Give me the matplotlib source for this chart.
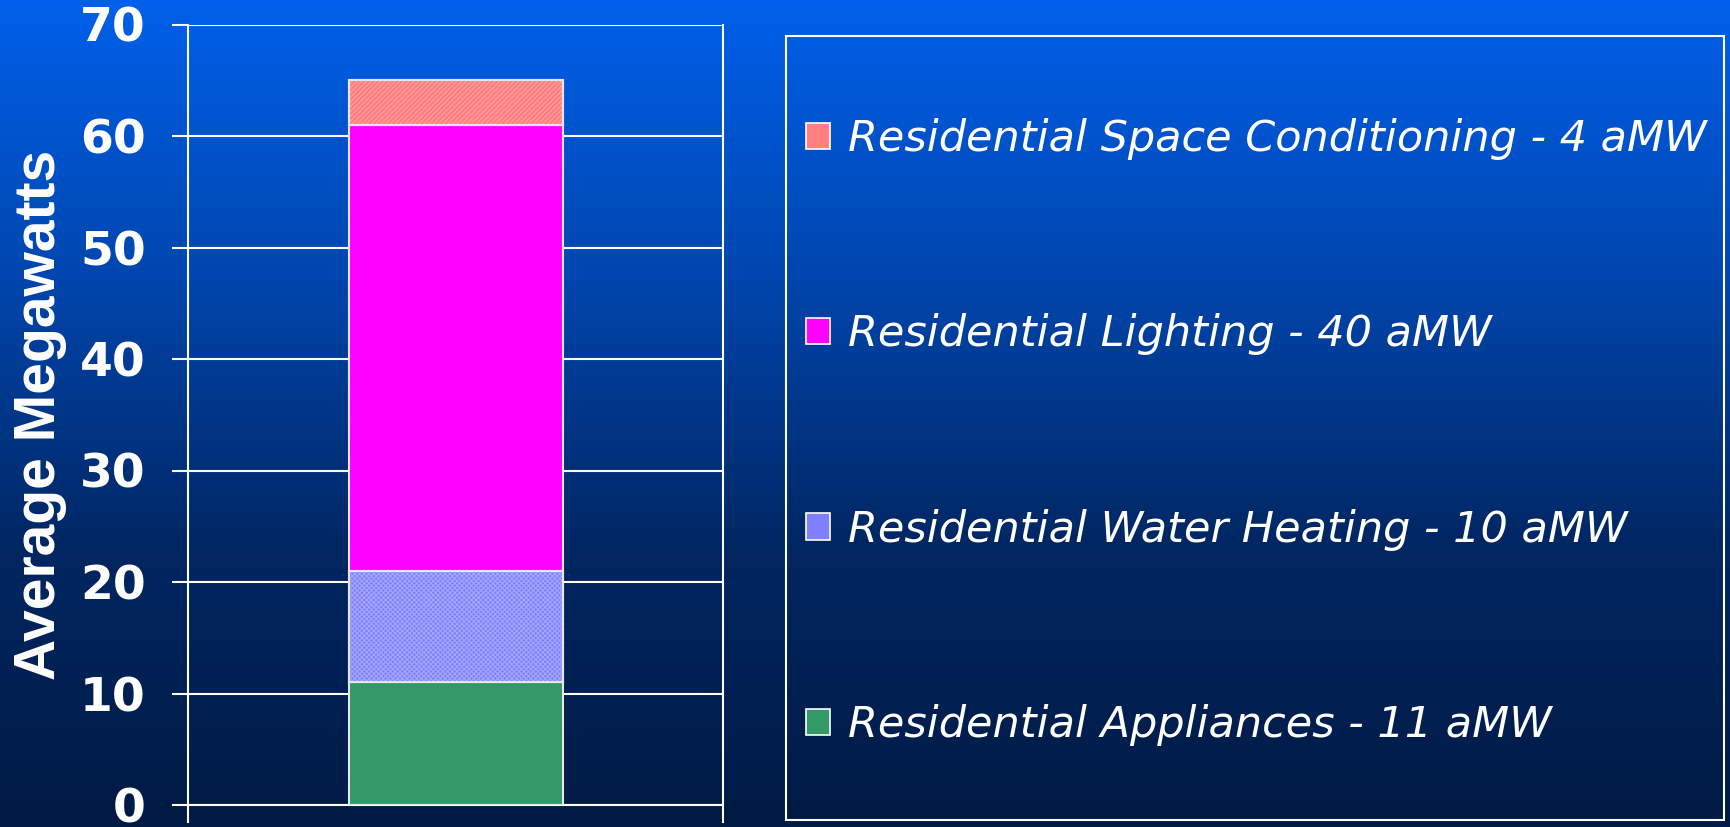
import numpy as np
import matplotlib
matplotlib.use("Agg")
import matplotlib.pyplot as plt
from matplotlib.patches import Patch, Rectangle
from matplotlib.colors import LinearSegmentedColormap

# Residential savings by end use (average megawatts), stacked bottom to top
categories = ["Residential Appliances", "Residential Water Heating",
              "Residential Lighting", "Residential Space Conditioning"]
values = [11, 10, 40, 4]
colors = ["#339966", "#8080ff", "#ff00ff", "#ff7f7f"]
hatch_colors = [None, "#a6a6ff", None, "#ffa3a3"]
hatches = [None, "xxxxxxx", None, "///////"]
yticks = [0, 10, 20, 30, 40, 50, 60, 70]

W, H, DPI = 1731, 827, 100
fig = plt.figure(figsize=(W / DPI, H / DPI), dpi=DPI)

# vertical blue gradient behind everything
bg = fig.add_axes([0, 0, 1, 1], zorder=-10)
grad = np.linspace(0, 1, 256).reshape(-1, 1)
cmap = LinearSegmentedColormap.from_list("bg", ["#0060ea", "#0046ae", "#002661", "#001a44"])
bg.imshow(grad, aspect="auto", cmap=cmap, extent=[0, 1, 0, 1], origin="upper")
bg.set_axis_off()

ax = fig.add_axes([188 / W, 1 - 805 / H, (723 - 188) / W, (805 - 24.5) / H])
ax.set_facecolor("none")
ax.set_xlim(0, 1)
ax.set_ylim(0, 70)

plt.rcParams["hatch.linewidth"] = 0.8
bottom = 0
for val, col, hc, ht in zip(values, colors, hatch_colors, hatches):
    ax.bar(0.5, val, width=0.4, bottom=bottom, color=col, edgecolor="#e6e6e6",
           linewidth=1.5, zorder=3)
    if ht:
        ax.bar(0.5, val, width=0.4, bottom=bottom, facecolor="none",
               edgecolor=hc, linewidth=0, hatch=ht, zorder=3.5)
        ax.bar(0.5, val, width=0.4, bottom=bottom, facecolor="none",
               edgecolor="#e6e6e6", linewidth=1.5, zorder=3.6)
    bottom += val

ax.set_yticks(yticks)
ax.set_xticks([])
ax.yaxis.grid(True, color="white", linewidth=1.5, zorder=1)
ax.set_axisbelow(True)
ax.tick_params(axis="y", colors="white", length=11.5, width=1.5, pad=19,
               labelsize=34)
for lab in ax.get_yticklabels():
    lab.set_fontweight("bold")
    lab.set_fontfamily("DejaVu Sans")

for side in ["left", "right"]:
    ax.spines[side].set_color("white")
    ax.spines[side].set_linewidth(1.5)
    ax.spines[side].set_bounds(-1.5, 70)
ax.spines["bottom"].set_color("white")
ax.spines["bottom"].set_linewidth(1.5)
ax.spines["top"].set_visible(False)

ax.set_ylabel("Average Megawatts", fontsize=41, fontweight="bold",
              color="white", family="Liberation Sans", va="center")
ax.yaxis.set_label_coords((40 - 188) / 535, 0.5)

# legend box
fig.patches.append(Rectangle((786 / W, 1 - 820 / H), (1724 - 786) / W, (820 - 36) / H,
                             transform=fig.transFigure, facecolor="none",
                             edgecolor="white", linewidth=1.5, zorder=5))

handles = []
labels = []
for cat, val, col in reversed(list(zip(categories, values, colors))):
    handles.append(Patch(facecolor=col, edgecolor="white", linewidth=1.2))
    labels.append(f"{cat} - {val} aMW")

leg = fig.legend(handles, labels, loc="center left",
                 bbox_to_anchor=(806 / W, 1 - 432 / H), frameon=False,
                 prop={"family": "DejaVu Sans", "style": "italic", "size": 31},
                 labelcolor="white", borderpad=0, borderaxespad=0,
                 handlelength=0.56, handleheight=0.56, handletextpad=0.42,
                 labelspacing=3.56)

fig.savefig("out.png", dpi=DPI)
